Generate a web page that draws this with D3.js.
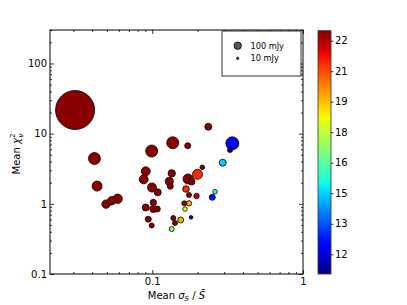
<!DOCTYPE html>
<html><head><meta charset="utf-8">
<script src="https://cdn.jsdelivr.net/npm/d3@7"></script>
<style>body{margin:0;background:#fff}svg{display:block}text{font-family:"DejaVu Sans",sans-serif;fill:#000}</style>
</head><body><svg id="c" width="407" height="305"></svg>
<script>
// ---- data ----
const sigmaRatio = [0.0308,0.0414,0.0431,0.0494,0.0539,0.0590,0.0992,0.1368,0.1719,0.2355,
  0.0906,0.0878,0.0997,0.1088,0.1347,0.1298,0.1318,0.1727,0.1828,0.1997,
  0.2149,0.1675,0.1754,0.1967,0.0906,0.1017,0.1017,0.1081,0.1633,0.1754,
  0.1650,0.0942,0.0992,0.1380,0.1416,0.1545,0.1809,0.1347,0.3398,0.3280,
  0.2935,0.2610,0.2503];
const chi2 = [21.7,4.42,1.79,0.99,1.107,1.18,5.65,7.42,6.73,12.55,
  2.905,2.234,1.707,1.458,2.72,2.092,1.776,2.256,2.065,2.633,
  3.313,1.625,1.335,1.292,0.886,1.043,0.843,0.843,1.016,1.016,
  0.843,0.603,0.491,0.627,0.533,0.588,0.642,0.4375,7.28,5.845,
  3.853,1.487,1.238];
const fluxMJy = [2778,263,183,129,129,161,263,263,66,90,
  148,148,148,90,100,117,66,183,80,183,
  39,80,46,53,90,75,90,66,46,53,
  39,66,46,46,46,66,24,46,309,46,
  90,39,66];
const magnitude = [22.8,22.8,22.8,22.8,22.8,22.8,22.8,22.8,22.8,22.8,
  22.8,22.8,22.8,22.8,22.8,22.8,22.8,22.8,22.8,21.4,
  22.8,21.4,22.8,22.0,22.8,22.8,22.8,22.8,22.8,19.8,
  18.7,22.8,22.8,22.8,22.8,19.8,12.0,17.6,12.7,11.9,
  15.3,16.2,13.2];
const xTickValues = [0.1, 1];
const xTickLabels = ["0.1", "1"];
const yTickValues = [0.1, 1, 10, 100];
const yTickLabels = ["0.1", "1", "10", "100"];
const cbTickValues = [12.5, 13.92, 15.34, 16.76, 18.18, 19.6, 21.02, 22.44];
const cbTickLabels = ["12", "13", "15", "16", "18", "19", "21", "22"];
const legendFlux = [100, 10];
const legendLabels = ["100 mJy", "10 mJy"];
const colorDomain = [11.583, 22.905];

// ---- layout ----
const svg = d3.select("#c");
const L = 50, R = 303, T = 30, B = 274;
const x = d3.scaleLog().domain([0.021, 1]).range([L, R]);
const y = d3.scaleLog().domain([0.1, 300]).range([B, T]);
const rScale = d3.scaleSqrt().domain([0, 100]).range([0, 3.7]);
const tScale = d3.scaleLinear().domain(colorDomain).range([0, 1]).clamp(true);
const jr = d3.scaleLinear().domain([0, 0.35, 0.66, 0.89, 1]).range([0, 0, 1, 1, 0.5]);
const jg = d3.scaleLinear().domain([0, 0.125, 0.375, 0.64, 0.91, 1]).range([0, 0, 1, 1, 0, 0]);
const jb = d3.scaleLinear().domain([0, 0.11, 0.34, 0.65, 1]).range([0.5, 1, 1, 0, 0]);
const jet = t => d3.rgb(jr(t) * 255, jg(t) * 255, jb(t) * 255).toString();
const color = v => jet(tScale(v));

// points
const pts = sigmaRatio.map((s, i) => ({x: s, y: chi2[i], f: fluxMJy[i], m: magnitude[i]}))
  .sort((a, b) => b.f - a.f);
svg.append("clipPath").attr("id", "pc").append("rect")
  .attr("x", L).attr("y", T).attr("width", R - L).attr("height", B - T);
svg.append("g").attr("clip-path", "url(#pc)").selectAll("circle").data(pts).join("circle")
  .attr("cx", d => x(d.x)).attr("cy", d => y(d.y)).attr("r", d => rScale(d.f))
  .attr("fill", d => color(d.m)).attr("stroke", "#000").attr("stroke-width", 0.8);

// axes ticks (inside, all sides)
function styleAxis(g) {
  g.select(".domain").remove();
  g.selectAll(".tick line").attr("stroke", "#000").attr("stroke-width", 0.8);
  g.selectAll("text").attr("font-size", 10).attr("fill", "#000");
}
const xMinor = x.ticks().filter(v => !xTickValues.some(m => Math.abs(m - v) < 1e-9));
const yMinor = y.ticks().filter(v => !yTickValues.some(m => Math.abs(m - v) < 1e-9));
svg.append("g").attr("transform", `translate(0,${B})`)
  .call(d3.axisBottom(x).tickValues(xTickValues).tickSizeInner(-4).tickPadding(3.5)
    .tickFormat((d, i) => xTickLabels[i])).call(styleAxis);
svg.append("g").attr("transform", `translate(0,${B})`)
  .call(d3.axisBottom(x).tickValues(xMinor).tickSizeInner(-2).tickFormat("")).call(styleAxis);
svg.append("g").attr("transform", `translate(0,${T})`)
  .call(d3.axisTop(x).tickValues(xTickValues).tickSizeInner(-4).tickFormat("")).call(styleAxis);
svg.append("g").attr("transform", `translate(0,${T})`)
  .call(d3.axisTop(x).tickValues(xMinor).tickSizeInner(-2).tickFormat("")).call(styleAxis);
svg.append("g").attr("transform", `translate(${L},0)`)
  .call(d3.axisLeft(y).tickValues(yTickValues).tickSizeInner(-4).tickPadding(3)
    .tickFormat((d, i) => yTickLabels[i])).call(styleAxis);
svg.append("g").attr("transform", `translate(${L},0)`)
  .call(d3.axisLeft(y).tickValues(yMinor).tickSizeInner(-2).tickFormat("")).call(styleAxis);
svg.append("g").attr("transform", `translate(${R},0)`)
  .call(d3.axisRight(y).tickValues(yTickValues).tickSizeInner(-4).tickFormat("")).call(styleAxis);
svg.append("g").attr("transform", `translate(${R},0)`)
  .call(d3.axisRight(y).tickValues(yMinor).tickSizeInner(-2).tickFormat("")).call(styleAxis);

svg.append("rect").attr("x", L).attr("y", T).attr("width", R - L).attr("height", B - T)
  .attr("fill", "none").attr("stroke", "#000").attr("stroke-width", 1);

// axis labels
const xl = svg.append("text").attr("x", (L + R) / 2).attr("y", 299).attr("text-anchor", "middle")
  .attr("font-size", 10);
xl.append("tspan").text("Mean ");
xl.append("tspan").attr("font-style", "italic").text("σ");
xl.append("tspan").attr("font-style", "italic").attr("font-size", 7).attr("dy", 2).text("S");
xl.append("tspan").attr("dy", -2).text(" / ");
xl.append("tspan").attr("font-style", "italic").text("S\u0304");

const yl = svg.append("text").attr("transform", "translate(20,154) rotate(-90)")
  .attr("text-anchor", "middle").attr("font-size", 10);
yl.append("tspan").text("Mean ");
yl.append("tspan").attr("font-style", "italic").text("χ");
yl.append("tspan").attr("font-size", 7).attr("dy", -5).text("2");
yl.append("tspan").attr("font-size", 7).attr("font-style", "italic").attr("dx", -4).attr("dy", 8).text("ν");

// legend
const lg = svg.append("g");
lg.append("rect").attr("x", 222).attr("y", 31).attr("width", 79).attr("height", 45)
  .attr("fill", "#fff").attr("stroke", "#000").attr("stroke-width", 0.8);
legendFlux.forEach((f, i) => {
  const cyy = 45.7 + i * 12.6;
  lg.append("circle").attr("cx", 237.7).attr("cy", cyy).attr("r", rScale(f))
    .attr("fill", "#555").attr("stroke", "#000").attr("stroke-width", 0.8);
  lg.append("text").attr("x", 250.5).attr("y", cyy + 3).attr("font-size", 8.2).text(legendLabels[i]);
});

// colorbar
const cbL = 318, cbR = 331, cbT = 30.7, cbB = 274;
const cbY = d3.scaleLinear().domain(colorDomain).range([cbB, cbT]);
const grad = svg.append("defs").append("linearGradient").attr("id", "jet")
  .attr("x1", 0).attr("y1", 1).attr("x2", 0).attr("y2", 0);
d3.range(0, 1.0001, 0.02).forEach(t => grad.append("stop").attr("offset", t).attr("stop-color", jet(t)));
svg.append("rect").attr("x", cbL).attr("y", cbT).attr("width", cbR - cbL).attr("height", cbB - cbT)
  .attr("fill", "url(#jet)").attr("stroke", "#333").attr("stroke-width", 0.8);
svg.append("g").attr("transform", `translate(${cbR},0)`)
  .call(d3.axisRight(cbY).tickValues(cbTickValues).tickSizeInner(2.5).tickPadding(1.5)
    .tickFormat((d, i) => cbTickLabels[i])).call(styleAxis);
</script></body></html>
